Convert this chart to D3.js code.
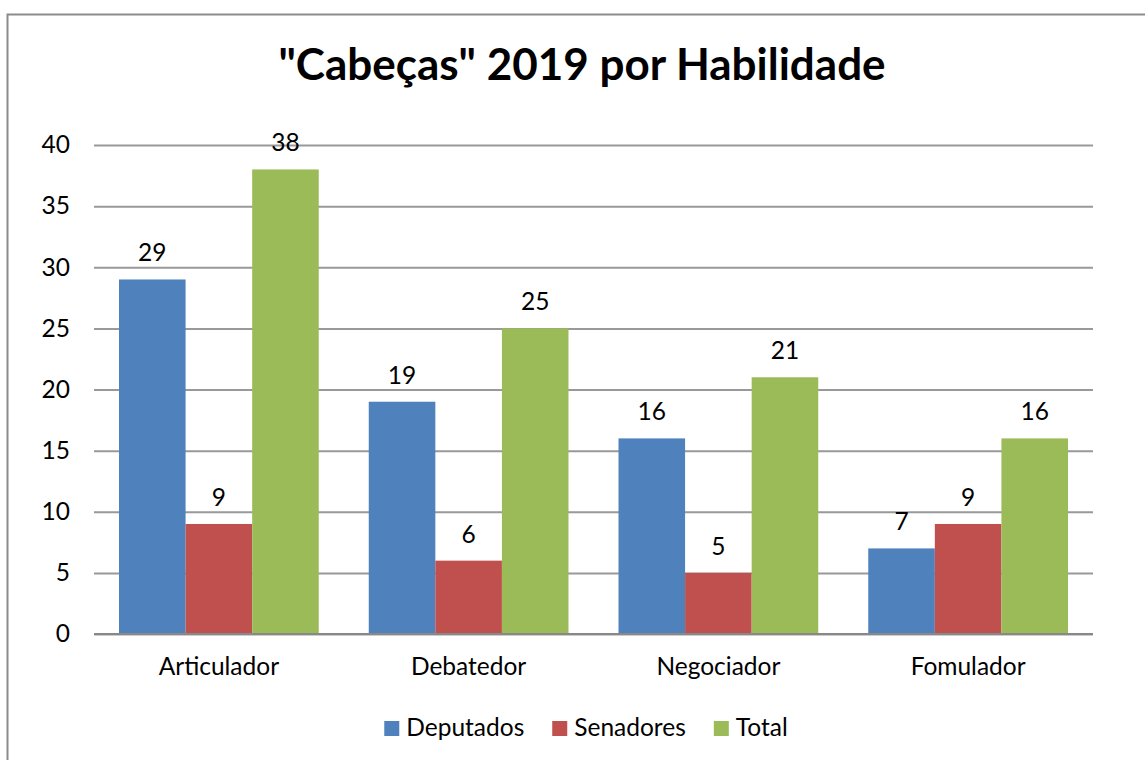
<!DOCTYPE html>
<html>
<head>
<meta charset="utf-8">
<script src="https://cdn.jsdelivr.net/npm/d3@7"></script>
<style>
  body { margin: 0; background: #fff; }
  text { font-family: Lato, "Open Sans", sans-serif; fill: #000; }
</style>
</head>
<body>
<div id="vis"></div>
<script>
// chart data
var categories = ['Articulador', 'Debatedor', 'Negociador', 'Fomulador'];
var seriesNames = ['Deputados', 'Senadores', 'Total'];
var deputados = [29, 19, 16, 7];
var senadores = [9, 6, 5, 9];
var total = [38, 25, 21, 16];
var yTicks = [0, 5, 10, 15, 20, 25, 30, 35, 40];
var colors = ['#4F81BD', '#C0504D', '#9BBB59'];

var width = 1145, height = 760;
var plot = { left: 94, right: 1093, top: 145, bottom: 634 };
var fontSize = '24.5px';

var svg = d3.select('#vis').append('svg')
  .attr('width', width)
  .attr('height', height);

// outer chart frame (right/bottom run off the picture)
svg.append('path')
  .attr('d', 'M7.5,' + (height + 2) + 'V14.5H' + (width + 2))
  .attr('fill', 'none')
  .attr('stroke', '#8c8c8c')
  .attr('stroke-width', 2);

svg.append('text')
  .attr('x', 582)
  .attr('y', 80)
  .attr('text-anchor', 'middle')
  .style('font-size', '44px')
  .style('font-weight', 'bold')
  .text('"Cabeças" 2019 por Habilidade');

var y = d3.scaleLinear().domain([0, 40]).range([plot.bottom, plot.top]);
var x0 = d3.scaleBand().domain(categories).range([plot.left, plot.right]).padding(0);
var x1 = d3.scaleBand().domain(seriesNames)
  .range([25, x0.bandwidth() - 25]).padding(0);

// gridlines + y labels
var yAxis = svg.append('g')
  .attr('transform', 'translate(' + plot.left + ',0)')
  .call(d3.axisLeft(y).tickValues(yTicks).tickSize(-(plot.right - plot.left)).tickPadding(24));
yAxis.select('.domain').remove();
yAxis.selectAll('.tick line').attr('stroke', '#999').attr('stroke-width', 2);
yAxis.selectAll('.tick text')
  .style('font-size', fontSize)
  .attr('font-family', null);

var rows = categories.map(function (c, i) {
  return { cat: c, values: [deputados[i], senadores[i], total[i]] };
});

var groups = svg.selectAll('.group')
  .data(rows)
  .enter().append('g')
  .attr('class', 'group')
  .attr('transform', function (d) { return 'translate(' + x0(d.cat) + ',0)'; });

groups.selectAll('rect')
  .data(function (d) { return d.values.map(function (v, j) { return { s: seriesNames[j], v: v, j: j }; }); })
  .enter().append('rect')
  .attr('x', function (d) { return x1(d.s); })
  .attr('width', x1.bandwidth())
  .attr('y', function (d) { return y(d.v); })
  .attr('height', function (d) { return y(0) - y(d.v); })
  .attr('fill', function (d) { return colors[d.j]; });

groups.selectAll('.lbl')
  .data(function (d) { return d.values.map(function (v, j) { return { s: seriesNames[j], v: v }; }); })
  .enter().append('text')
  .attr('class', 'lbl')
  .attr('x', function (d) { return x1(d.s) + x1.bandwidth() / 2; })
  .attr('y', function (d) { return y(d.v) - 18; })
  .attr('text-anchor', 'middle')
  .style('font-size', fontSize)
  .text(function (d) { return d.v; });

// x axis baseline
svg.append('line')
  .attr('x1', plot.left).attr('x2', plot.right)
  .attr('y1', y(0)).attr('y2', y(0))
  .attr('stroke', '#888').attr('stroke-width', 2);

svg.selectAll('.cat')
  .data(categories)
  .enter().append('text')
  .attr('class', 'cat')
  .attr('x', function (d) { return x0(d) + x0.bandwidth() / 2; })
  .attr('y', 675)
  .attr('text-anchor', 'middle')
  .style('font-size', fontSize)
  .text(function (d) { return d; });

// legend
var legend = svg.append('g');
var lx = 0;
seriesNames.forEach(function (name, i) {
  var item = legend.append('g').attr('transform', 'translate(' + lx + ',0)');
  item.append('rect')
    .attr('x', 0).attr('y', -15)
    .attr('width', 15).attr('height', 15)
    .attr('fill', colors[i]);
  var t = item.append('text')
    .attr('x', 22).attr('y', 0)
    .style('font-size', fontSize)
    .text(name);
  lx += 22 + t.node().getComputedTextLength() + 28;
});
var legendW = lx - 28;
legend.attr('transform', 'translate(' + (586 - legendW / 2) + ',736)');
</script>
</body>
</html>
